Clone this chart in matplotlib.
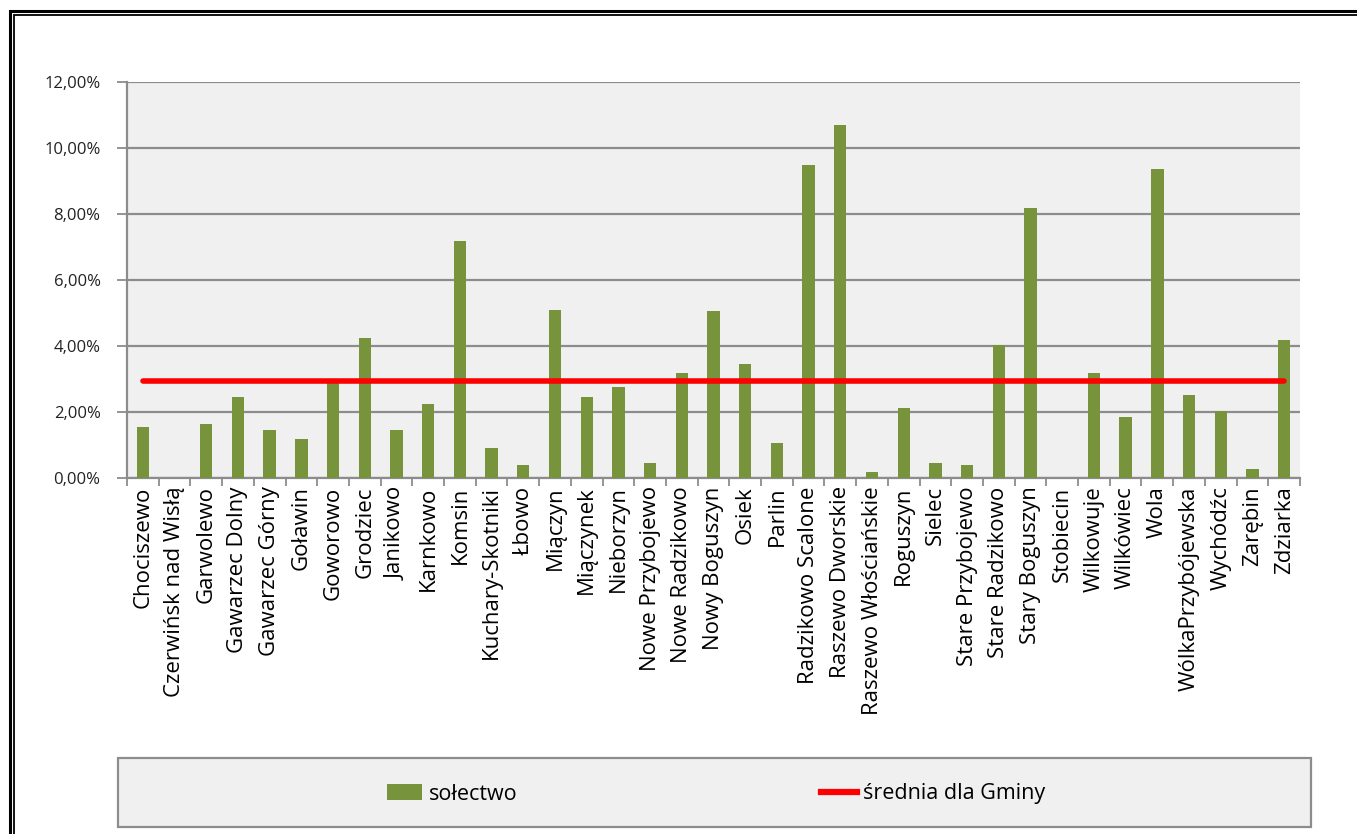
import matplotlib
matplotlib.use("Agg")
import matplotlib.pyplot as plt
from matplotlib.patches import Rectangle
from matplotlib.lines import Line2D
from matplotlib.ticker import FuncFormatter, FixedLocator
import numpy as np

categories = ["Chociszewo", "Czerwińsk nad Wisłą", "Garwolewo", "Gawarzec Dolny",
              "Gawarzec Górny", "Goławin", "Goworowo", "Grodziec", "Janikowo",
              "Karnkowo", "Komsin", "Kuchary-Skotniki", "Łbowo", "Miączyn",
              "Miączynek", "Nieborzyn", "Nowe Przybojewo", "Nowe Radzikowo",
              "Nowy Boguszyn", "Osiek", "Parlin", "Radzikowo Scalone",
              "Raszewo Dworskie", "Raszewo Włościańskie", "Roguszyn", "Sielec",
              "Stare Przybojewo", "Stare Radzikowo", "Stary Boguszyn", "Stobiecin",
              "Wilkowuje", "Wilkówiec", "Wola", "WólkaPrzybójewska", "Wychódźc",
              "Zarębin", "Zdziarka"]
solectwo = [1.56, 0.0, 1.65, 2.45, 1.44, 1.17, 2.88, 4.24, 1.44, 2.24, 7.18, 0.90,
            0.38, 5.10, 2.45, 2.75, 0.45, 3.18, 5.05, 3.45, 1.05, 9.50, 10.70,
            0.18, 2.12, 0.45, 0.38, 4.03, 8.18, 0.0, 3.18, 1.85, 9.36, 2.52,
            2.03, 0.27, 4.18]
srednia = 2.95
yticks = [0, 2, 4, 6, 8, 10, 12]

FONT = ["Open Sans", "DejaVu Sans"]
plt.rcParams["font.family"] = FONT

W, H = 1357, 834
fig = plt.figure(figsize=(W / 100, H / 100), dpi=100)

def fx(px):
    return px / W

def fy(py):
    return 1 - py / H

left, right, top, bottom = 127, 1300, 82, 478
ax = fig.add_axes([fx(left), fy(bottom), fx(right - left), (bottom - top) / H])
ax.set_facecolor("#F0F0F0")

n = len(categories)
x = np.arange(n)
ax.bar(x, solectwo, width=0.39, color="#77933C", zorder=3)
ax.plot([x[0], x[-1]], [srednia, srednia], color="#FF0000", lw=4, zorder=4,
        solid_capstyle="round")

ax.set_xlim(-0.5, n - 0.5)
ax.set_ylim(0, 12)
ax.set_yticks(yticks)
ax.yaxis.set_major_formatter(FuncFormatter(lambda v, p: f"{v:.2f}".replace(".", ",") + "%"))
ax.grid(axis="y", color="#8C8C8C", lw=1.6, zorder=1)
ax.set_axisbelow(True)

ax.xaxis.set_major_locator(FixedLocator(x))
ax.set_xticklabels(categories, rotation=90, fontsize=16, color="#000000")
ax.xaxis.set_minor_locator(FixedLocator(np.arange(n + 1) - 0.5))
ax.tick_params(axis="x", which="major", length=0, pad=6)
ax.tick_params(axis="x", which="minor", length=6, width=1.3, color="#8C8C8C")
ax.tick_params(axis="y", length=7, width=1.3, color="#8C8C8C", labelsize=12,
               labelcolor="#222222", pad=12)
for s in ["top", "right"]:
    ax.spines[s].set_visible(False)
for s in ["left", "bottom"]:
    ax.spines[s].set_color("#8C8C8C")
    ax.spines[s].set_linewidth(1.6)

# legend box
fig.patches.append(Rectangle((fx(118), fy(827)), fx(1311 - 118), (827 - 758) / H,
                             transform=fig.transFigure, facecolor="#F0F0F0",
                             edgecolor="#8C8C8C", lw=1.6))
handles = [Rectangle((0, 0), 1, 1, facecolor="#77933C"),
           Line2D([0], [0], color="#FF0000", lw=4.5)]
fig.legend(handles, ["sołectwo", "średnia dla Gminy"], loc="center",
           bbox_to_anchor=(fx(716), fy(794)), ncol=2, frameon=False,
           fontsize=15.5, handlelength=1.65, handleheight=0.75,
           handletextpad=0.3, columnspacing=14.1)

# double frame border
fig.patches.append(Rectangle((fx(10), -0.1), 1.2, fy(11) + 0.1, transform=fig.transFigure,
                             fill=False, edgecolor="black", lw=2.2))
fig.patches.append(Rectangle((fx(14), -0.1), 1.2, fy(15) + 0.1, transform=fig.transFigure,
                             fill=False, edgecolor="black", lw=1.3))

fig.savefig("out.png", dpi=100)
